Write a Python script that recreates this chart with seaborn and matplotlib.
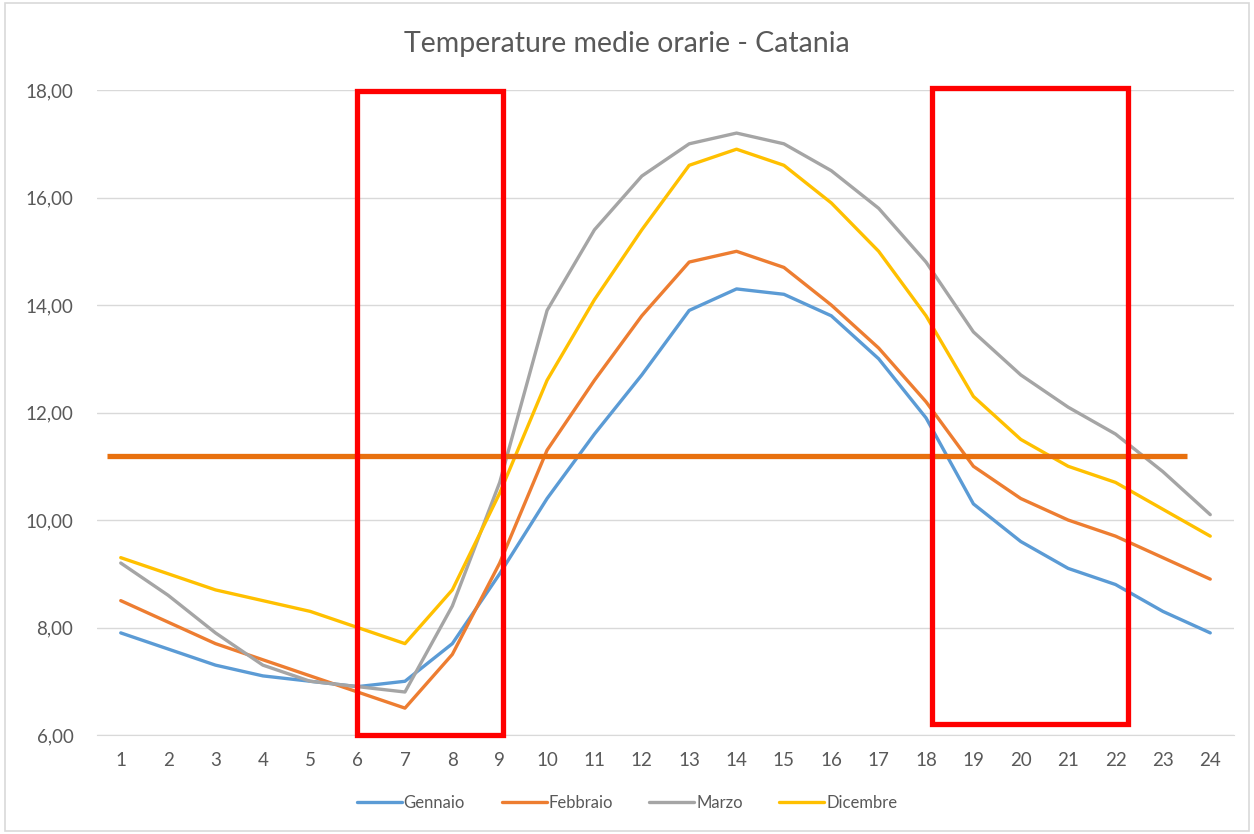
import pandas as pd
import matplotlib.pyplot as plt
import seaborn as sns
from matplotlib.patches import Rectangle

ore = list(range(1, 25))

gennaio = [7.9, 7.6, 7.3, 7.1, 7.0, 6.9, 7.0, 7.7, 9.0, 10.4, 11.6, 12.7,
           13.9, 14.3, 14.2, 13.8, 13.0, 11.9, 10.3, 9.6, 9.1, 8.8, 8.3, 7.9]
febbraio = [8.5, 8.1, 7.7, 7.4, 7.1, 6.8, 6.5, 7.5, 9.2, 11.3, 12.6, 13.8,
            14.8, 15.0, 14.7, 14.0, 13.2, 12.2, 11.0, 10.4, 10.0, 9.7, 9.3, 8.9]
marzo = [9.2, 8.6, 7.9, 7.3, 7.0, 6.9, 6.8, 8.4, 10.7, 13.9, 15.4, 16.4,
         17.0, 17.2, 17.0, 16.5, 15.8, 14.8, 13.5, 12.7, 12.1, 11.6, 10.9, 10.1]
dicembre = [9.3, 9.0, 8.7, 8.5, 8.3, 8.0, 7.7, 8.7, 10.5, 12.6, 14.1, 15.4,
            16.6, 16.9, 16.6, 15.9, 15.0, 13.8, 12.3, 11.5, 11.0, 10.7, 10.2, 9.7]

mesi = ['Gennaio', 'Febbraio', 'Marzo', 'Dicembre']
colori = ['#5B9BD5', '#ED7D31', '#A5A5A5', '#FFC000']

soglia = 11.2
soglia_da, soglia_a = 0.71, 23.5

# finestre evidenziate (ora inizio, ora fine, temp min, temp max)
finestre = [(5.98, 9.07, 6.0, 17.98), (18.13, 22.27, 6.2, 18.04)]

tick_y = [6, 8, 10, 12, 14, 16, 18]
etichette_y = ['6,00', '8,00', '10,00', '12,00', '14,00', '16,00', '18,00']

df = pd.DataFrame({
    'Ora': ore * 4,
    'Temp': gennaio + febbraio + marzo + dicembre,
    'Mese': sum([[m] * 24 for m in mesi], []),
})

sns.set_style('white')
plt.rcParams['font.family'] = ['Lato', 'DejaVu Sans']

fig = plt.figure(figsize=(12.54, 8.34), dpi=100)
ax = fig.add_axes([0.0774, 0.1187, 0.9066, 0.7733])

sns.lineplot(data=df, x='Ora', y='Temp', hue='Mese', hue_order=mesi,
             palette=colori, linewidth=2.4, ax=ax)

ax.set_xlim(0.5, 24.5)
ax.set_ylim(6, 18)
ax.set_xticks(ore)
ax.set_xticklabels([str(o) for o in ore])
ax.set_yticks(tick_y)
ax.set_yticklabels(etichette_y)
ax.tick_params(axis='both', length=0, labelsize=13.5, colors='#595959')
ax.tick_params(axis='x', pad=12)
ax.tick_params(axis='y', pad=17)
ax.set_xlabel('')
ax.set_ylabel('')
ax.grid(axis='y', color='#D9D9D9', linewidth=1)
ax.set_axisbelow(True)
for lato in ['top', 'right', 'left']:
    ax.spines[lato].set_visible(False)
ax.spines['bottom'].set_color('#D9D9D9')

ax.plot([soglia_da, soglia_a], [soglia, soglia], color='#E8700E',
        linewidth=3.8, solid_capstyle='butt', zorder=5)

for x0, x1, y0, y1 in finestre:
    ax.add_patch(Rectangle((x0, y0), x1 - x0, y1 - y0, fill=False,
                           edgecolor='#FF0000', linewidth=3.8,
                           clip_on=False, zorder=6))

fig.suptitle('Temperature medie orarie - Catania', y=0.963, fontsize=20.5,
             color='#595959')

ax.legend_.remove()
handles, labels = ax.get_legend_handles_labels()
fig.legend(handles, labels, loc='center', bbox_to_anchor=(0.5, 0.037),
           ncol=4, frameon=False, fontsize=12, handlelength=2.7,
           handletextpad=0.1, columnspacing=2.2, labelcolor='#595959')

fig.patches.append(Rectangle((0.004, 0.004), 0.992, 0.992,
                             transform=fig.transFigure, fill=False,
                             edgecolor='#D9D9D9', linewidth=1.2))

plt.savefig('out.png', dpi=100)
